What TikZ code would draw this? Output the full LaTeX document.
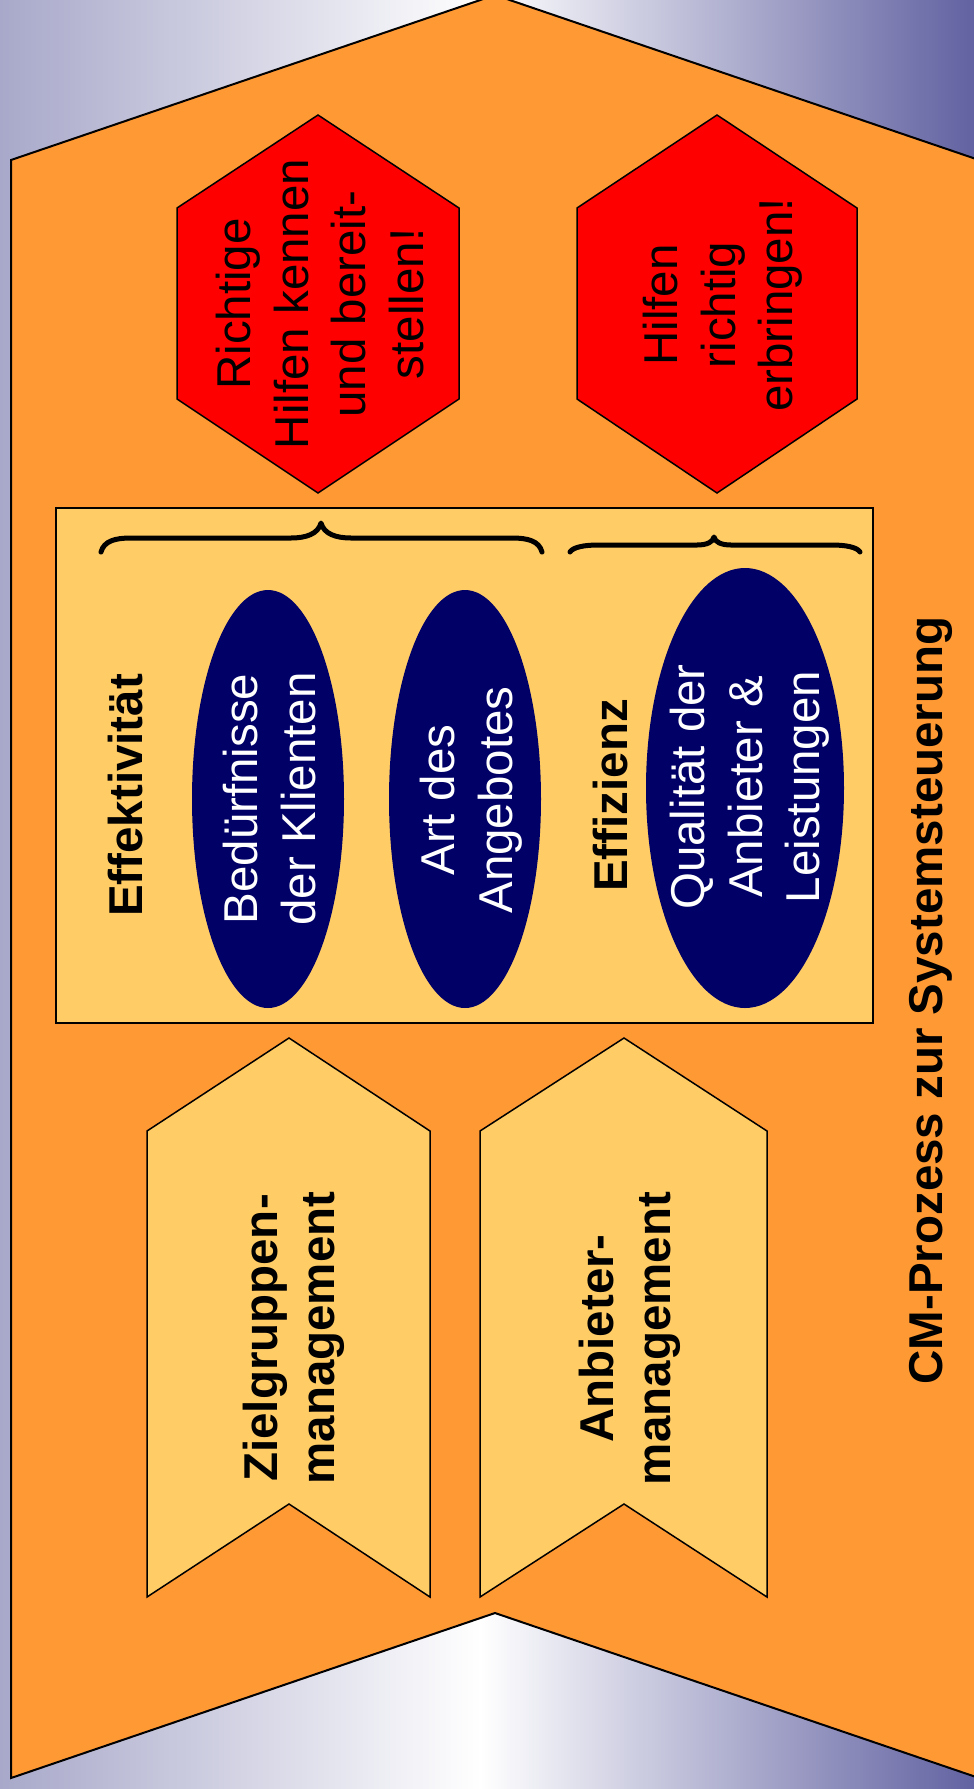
\documentclass[tikz,border=0pt]{standalone}
\usepackage{fontspec}
\setmainfont{Liberation Sans}
\definecolor{bgleft}{HTML}{A8A8CA}
\definecolor{bgright}{HTML}{6262A2}
\definecolor{process}{HTML}{FF9933}
\definecolor{panel}{HTML}{FFCC66}
\definecolor{goal}{HTML}{FF0000}
\definecolor{aspect}{HTML}{000066}
\begin{document}
\begin{tikzpicture}[x=1pt,y=-1pt,
  outline/.style={draw=black,line width=1.5pt,line join=miter},
  txt/.style={font=\fontsize{47.5}{57.5}\selectfont,rotate=90,align=center,inner sep=0pt},
  btxt/.style={txt,font=\fontsize{47.5}{57.5}\selectfont\bfseries},
  bracket/.style={draw=black,line width=5pt,line cap=round,line join=round}]
\useasboundingbox (0,0) rectangle (974,1789);
\clip (0,0) rectangle (974,1789);

% background gradient
\shade[left color=bgleft,right color=white] (0,0) rectangle (481,1789);
\shade[left color=white,right color=bgright] (480,0) rectangle (974,1789);

% process chevron
\path[fill=process,draw=black,line width=2pt,line join=miter]
  (11,160) -- (495,-5) -- (979,160) -- (979,1778) -- (495,1613) -- (11,1778) -- cycle;

% goal hexagons
\path[outline,fill=goal] (318,115) -- (459,208) -- (459,399) -- (318,493) -- (177,399) -- (177,208) -- cycle;
\path[outline,fill=goal] (717,115) -- (857,208) -- (857,399) -- (717,493) -- (577,399) -- (577,208) -- cycle;
\node[txt] (goalA) at (320,304) {Richtige\\Hilfen kennen\\und bereit-\\stellen!};
\node[txt] (goalB) at (723,305) {Hilfen\\richtig\\erbringen!};

% criteria panel
\path[outline,fill=panel] (56,508) rectangle (873,1023);

% braces
\draw[bracket] (101,552) .. controls (104,541) and (115,538) .. (131,538) -- (291,538)
  .. controls (306,538) and (318,534) .. (321,523)
  .. controls (324,534) and (336,538) .. (351,538) -- (512,538)
  .. controls (528,538) and (539,541) .. (542,552);
\draw[bracket] (570,552) .. controls (573,547) and (585,545) .. (598,545) -- (697,545)
  .. controls (707,545) and (713,542) .. (714,537)
  .. controls (715,542) and (721,545) .. (731,545) -- (832,545)
  .. controls (845,545) and (857,547) .. (860,552);

% ellipses
\path[fill=aspect] (268,799) ellipse [x radius=76,y radius=209];
\path[fill=aspect] (465,799) ellipse [x radius=76,y radius=209];
\path[fill=aspect] (745,788) ellipse [x radius=99,y radius=220];

\node[btxt] (effekt) at (126,795.5) {Effektivität};
\node[txt,text=white] (needs) at (269.5,799) {Bedürfnisse\\der Klienten};
\node[txt,text=white] (offer) at (471,800) {Art des\\Angebotes};
\node[btxt] (effiz) at (611,795.5) {Effizienz};
\node[txt,text=white] (quality) at (750,787) {Qualität der\\Anbieter \&\\Leistungen};

% management arrows
\path[outline,fill=panel] (147,1131) -- (289,1038) -- (430,1131) -- (430,1597) -- (289,1504) -- (147,1597) -- cycle;
\path[outline,fill=panel] (480,1131) -- (624,1038) -- (767,1131) -- (767,1597) -- (624,1504) -- (480,1597) -- cycle;
\node[btxt] (zielg) at (294,1338) {Zielgruppen-\\management};
\node[btxt] (anbiet) at (630,1338.5) {Anbieter-\\management};

% process caption
\node[btxt] (caption) at (930.5,1000.5) {CM-Prozess zur Systemsteuerung};
\end{tikzpicture}
\end{document}
